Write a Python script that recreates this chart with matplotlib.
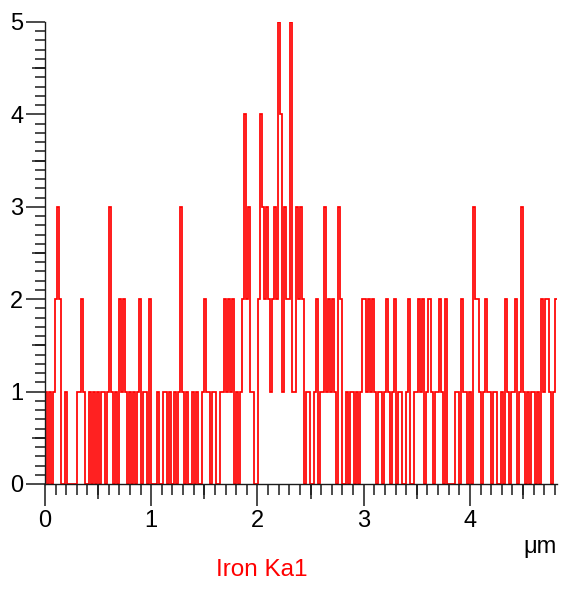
import numpy as np
import matplotlib
matplotlib.use("Agg")
import matplotlib.pyplot as plt
from matplotlib.ticker import MultipleLocator, NullFormatter

# Iron Ka1 line scan counts, one value per step, split by micrometre
counts_0_1 = [1, 0, 1, 0, 1, 2, 3, 2, 0, 0, 1, 0, 0, 0, 0, 0,
              1, 1, 2, 1, 0, 0, 1, 0, 1, 0, 1, 0, 1, 1, 0, 1,
              3, 1, 0, 1, 0, 2, 1, 2, 1, 0, 1, 0, 1, 0, 1, 2,
              0, 1, 1, 0, 2, 0]
counts_1_2 = [0, 0, 1, 0, 0, 1, 1, 0, 1, 0, 1, 0, 1, 3, 1, 0,
              1, 0, 0, 1, 0, 1, 0, 0, 1, 2, 1, 1, 0, 1, 1, 0,
              0, 1, 1, 2, 1, 2, 1, 2, 0, 1, 0, 1, 2, 4, 2, 3,
              1, 1, 0, 0, 2]
counts_2_3 = [4, 3, 2, 3, 2, 1, 2, 3, 2, 5, 4, 1, 3, 2, 2, 5,
              1, 1, 3, 2, 3, 2, 0, 1, 1, 0, 0, 1, 2, 0, 1, 1,
              3, 1, 2, 1, 2, 1, 0, 3, 2, 0, 0, 1, 0, 1, 1, 0,
              1, 0, 1, 2, 2, 1]
counts_3_4 = [2, 1, 2, 1, 0, 1, 1, 0, 1, 2, 1, 0, 1, 2, 0, 1,
              1, 0, 0, 1, 2, 0, 0, 1, 1, 2, 1, 2, 0, 1, 2, 1,
              0, 1, 1, 2, 1, 0, 2, 0, 0, 0, 0, 1, 1, 0, 2, 1,
              1, 0, 1, 0, 3, 2, 2]
counts_4_5 = [1, 0, 1, 2, 1, 1, 0, 1, 1, 0, 0, 1, 0, 2, 1, 0,
              1, 1, 2, 0, 1, 3, 1, 0, 1, 0, 1, 1, 0, 1, 0, 2,
              1, 2, 2, 1, 0, 1, 2]

counts = np.array(counts_0_1 + counts_1_2 + counts_2_3 + counts_3_4 + counts_4_5)
x_end = 4.82
edges = np.linspace(0, x_end, len(counts) + 1)

plt.rcParams['font.family'] = ['Liberation Sans', 'DejaVu Sans']
tc = '#1a1a1a'

fig = plt.figure(figsize=(5.63, 5.89), dpi=100)
pos = [45 / 563, 105 / 589, 512 / 563, 462 / 589]
ax = fig.add_axes(pos)
ax.stairs(counts, edges, color='#ff0000', linewidth=1.25, baseline=None)
ax.set_xlim(0, x_end)
ax.set_ylim(0, 5)

for s in ['top', 'right']:
    ax.spines[s].set_visible(False)
for s in ['left', 'bottom']:
    ax.spines[s].set_color(tc)
    ax.spines[s].set_linewidth(1.0)

ax.xaxis.set_major_locator(MultipleLocator(1))
ax.xaxis.set_minor_locator(MultipleLocator(0.1))
ax.yaxis.set_major_locator(MultipleLocator(1))
ax.yaxis.set_minor_locator(MultipleLocator(0.1))
ax.tick_params(which='major', axis='x', length=16, width=1.1, color=tc,
               labelsize=17, pad=3, labelcolor='black')
ax.tick_params(which='major', axis='y', length=14, width=1.1, color=tc,
               labelsize=17, pad=1.5, labelcolor='black')
ax.tick_params(which='minor', axis='x', length=8, width=1.1, color=tc)
ax.tick_params(which='minor', axis='y', length=7, width=1.1, color=tc)

# medium ticks at the half units (own axes, not shared, so locators stay apart)
axm = fig.add_axes(pos)
axm.set_xlim(0, x_end)
axm.set_ylim(0, 5)
axm.patch.set_visible(False)
for s in axm.spines.values():
    s.set_visible(False)
axm.set_xticks(np.arange(0.5, x_end, 1))
axm.set_yticks(np.arange(0.5, 5, 1))
axm.xaxis.set_major_formatter(NullFormatter())
axm.yaxis.set_major_formatter(NullFormatter())
axm.tick_params(axis='x', length=11, width=1.1, color=tc)
axm.tick_params(axis='y', length=9.5, width=1.1, color=tc)

fig.text(540 / 563, 1 - 547 / 589, 'μm', fontsize=17, ha='center', va='center')
fig.text(262 / 563, 1 - 570 / 589, 'Iron Ka1', fontsize=17.5, color='#ff0000',
         ha='center', va='center')

fig.savefig('out.png', dpi=100)
